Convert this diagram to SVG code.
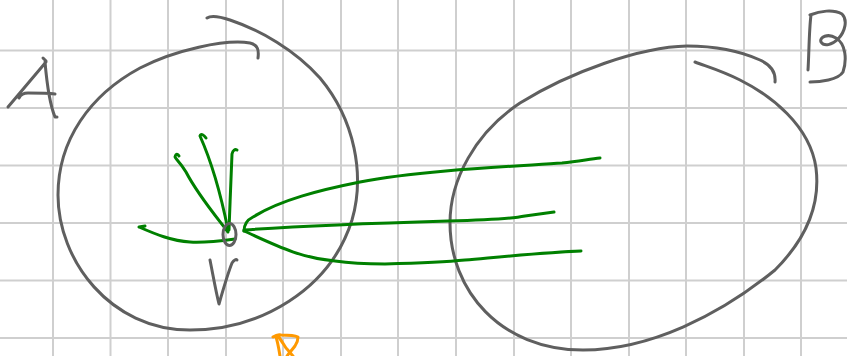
<svg xmlns="http://www.w3.org/2000/svg" width="847" height="356" viewBox="0 0 847 356">
<style>
.grid line{stroke:#cfcfcf;stroke-width:2}
.ink{fill:none;stroke:#5f5f5f;stroke-width:3;stroke-linecap:round;stroke-linejoin:round}
.edge{fill:none;stroke:#008000;stroke-width:3;stroke-linecap:round;stroke-linejoin:round}
.mark{fill:none;stroke:#ff9900;stroke-width:3;stroke-linecap:round;stroke-linejoin:round}
</style>
<rect width="847" height="356" fill="#ffffff"/>
<g class="grid">
<line x1="53" y1="0" x2="53" y2="356"/><line x1="110.5" y1="0" x2="110.5" y2="356"/><line x1="168" y1="0" x2="168" y2="356"/><line x1="226" y1="0" x2="226" y2="356"/><line x1="283" y1="0" x2="283" y2="356"/><line x1="341" y1="0" x2="341" y2="356"/><line x1="398" y1="0" x2="398" y2="356"/><line x1="456" y1="0" x2="456" y2="356"/><line x1="514" y1="0" x2="514" y2="356"/><line x1="571" y1="0" x2="571" y2="356"/><line x1="629" y1="0" x2="629" y2="356"/><line x1="686" y1="0" x2="686" y2="356"/><line x1="744" y1="0" x2="744" y2="356"/><line x1="801" y1="0" x2="801" y2="356"/>
<line x1="0" y1="50.5" x2="847" y2="50.5"/><line x1="0" y1="108" x2="847" y2="108"/><line x1="0" y1="165.5" x2="847" y2="165.5"/><line x1="0" y1="223" x2="847" y2="223"/><line x1="0" y1="280.5" x2="847" y2="280.5"/><line x1="0" y1="338" x2="847" y2="338"/>
</g>
<g id="setA">
<path class="ink" d="M258,58 C259,50 258,45 250,43 C225,39 175,50 140,68 C90,95 58,140 58,195 C58,260 110,330 190,330 C260,330 330,290 352,220 C365,175 355,120 320,78 C295,50 260,30 230,20 C218,16 210,16 207,18"/>
<path class="ink" d="M8,107 L46,62 M43,58 L46,61 M45,62 C47,85 50,105 55,117 L57,117 M19,98 C21,94 24,93 28,93 C38,93 48,93 55,94"/>
</g>
<g id="setB">
<path class="ink" d="M775,82 C776,72 771,65 760,60 C740,51 715,46 687,46 C640,47 570,72 520,103 C475,133 450,180 450,223 C450,290 500,350 583,350 C650,350 720,315 775,270 C810,235 820,200 816,168 C810,125 770,95 740,80 C720,70 705,66 695,62"/>
<path class="ink" d="M811,15 C809,30 809,55 808,70 M810,15 C820,11 833,9 842,14 C848,20 845,32 838,39 C832,45 824,47 821,42 C819,37 828,33 836,38 C846,44 847,60 843,72 C838,80 820,82 810,82"/>
</g>
<g id="connectors">
<path class="edge" d="M139,227 L145,226 M139,227 C155,234 172,241 190,242 C205,243 220,241 235,239"/>
<path class="edge" d="M228,232 C215,215 198,195 186,172 C180,162 175,158 175,157 C176,153 178,154 179,156"/>
<path class="edge" d="M228,230 C222,200 213,165 200,136 C201,133 204,135 206,138"/>
<path class="edge" d="M229,230 C230,205 231,175 232,154 C233,150 235,149 237,150"/>
<path class="edge" d="M244,231 C244,224 247,220 253,217 C280,200 320,190 360,182 C420,170 520,166 562,163 C580,161 590,159 600,158"/>
<path class="edge" d="M244,230 C300,226 380,223 448,221 C490,220 510,219 525,216 C540,214 547,213 554,212"/>
<path class="edge" d="M244,231 C275,245 300,258 335,261 C355,264 370,264 385,264 C420,263 445,262 465,260 C510,256 550,252 581,251"/>
</g>
<g id="V">
<ellipse class="ink" cx="229.5" cy="234.5" rx="6.5" ry="11"/>
<path class="ink" d="M210,260 C213,275 216,292 219,304 C223,290 228,273 232,263 C234,260 236,259 237,260"/>
</g>
<g id="mark">
<path class="mark" d="M273,337 C276,335 278,334 281,335 C287,335 294,335 298,337 C298,340 297,343 295,346 C292,350 289,353 287,356 M276,337 C278,343 279,350 280,356 M278,336 C281,340 284,345 286,348 C289,351 291,354 293,356"/>
</g>
</svg>
